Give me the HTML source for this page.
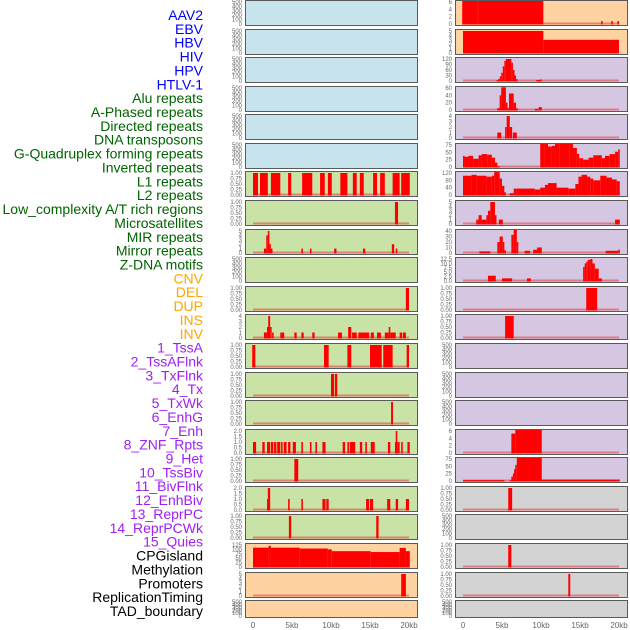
<!DOCTYPE html>
<html><head><meta charset="utf-8"><style>
html,body{margin:0;padding:0;background:#fff;width:630px;height:630px;overflow:hidden}
svg{display:block}
.lab{font-family:"Liberation Sans",sans-serif;font-size:14px}
.tk{font-family:"Liberation Sans",sans-serif;font-size:6px;fill:#666}
.ax{font-family:"Liberation Sans",sans-serif;font-size:8px;fill:#666}
</style></head><body>
<svg id="chart" width="630" height="630"></svg>
<script>
const labels = ["AAV2","EBV","HBV","HIV","HPV","HTLV-1","Alu repeats","A-Phased repeats","Directed repeats","DNA transposons","G-Quadruplex forming repeats","Inverted repeats","L1 repeats","L2 repeats","Low_complexity A/T rich regions","Microsatellites","MIR repeats","Mirror repeats","Z-DNA motifs","CNV","DEL","DUP","INS","INV","1_TssA","2_TssAFlnk","3_TxFlnk","4_Tx","5_TxWk","6_EnhG","7_Enh","8_ZNF_Rpts","9_Het","10_TssBiv","11_BivFlnk","12_EnhBiv","13_ReprPC","14_ReprPCWk","15_Quies","CPGisland","Methylation","Promoters","ReplicationTiming","TAD_boundary"];
const labelColors = {blue:"#0000ff",green:"#006400",orange:"#ffa500",purple:"#a020f0",black:"#000"};
const labelGroups = [6,13,5,15,5];
const xTicks = [0,5,10,15,20];
const xTickLabels = ["0","5kb","10kb","15kb","20kb"];
const T500=[0,100,200,300,400,500], T1=[0,0.25,0.5,0.75,1.0];
const leftBg = ["b","b","b","b","b","b","g","g","g","g","g","g","g","g","g","g","g","g","g","o","o","o"];
const rightBg = ["o","o","p","p","p","p","p","p","p","p","p","p","p","p","p","p","p","y","y","y","y","y"];
const leftTicks = [T500,T500,T500,T500,T500,T500,T1,T1,[0,1,2,3,4,5],T500,T1,[0,1,2,3,4],T1,T1,T1,[0,0.5,1,1.5,2],T1,[0,0.5,1,1.5,2],T1,[0,25,50,75,100,125],[0,1,2,3,4,5],T500];
const rightTicks = [[0,2,4,6],[0,1,2,3,4,5],[0,30,60,90,120],[0,20,40,60],[0,1,2,3,4],[0,25,50,75],[0,40,80,120],[0,1,2,3,4,5],[0,10,20,30,40],[0,2.5,5,7.5,10,12.5],T1,T1,T500,T500,T500,[0,2,4,6],[0,25,50,75],T1,T500,T1,T1,T500];
const leftSegs = [[],[],[],[],[],[],
 [[0,0.64,1],[0.9,1.9,1],[2.3,3.5,1],[4.5,4.9,1],[6.3,7.6,1],[8.6,9.2,1],[9.6,10.1,1],[11.2,12.1,1],[12.8,13.3,1],[13.7,14.2,1],[15.4,15.9,1],[16.3,16.9,1],[17.9,18.8,1],[19.0,20.1,1]],
 [[18.2,18.6,1]],
 [[1.4,1.7,1],[1.7,1.9,4],[1.9,2.1,5],[2.1,2.2,2],[2.2,2.5,1],[6.2,6.4,1],[7.3,7.5,1],[10.4,10.7,1],[14.1,14.4,1],[17.8,18.1,2],[18.3,18.5,1]],
 [],
 [[19.6,20.0,1]],
 [[1.4,1.8,1],[1.8,1.95,2],[1.95,2.2,4],[2.2,2.35,2],[2.45,2.65,1],[3.5,4.0,1],[5.3,5.6,1],[6.2,6.5,1],[7.6,7.9,1],[10.9,11.4,1],[12.2,12.6,2],[12.7,13.3,1],[13.5,14.9,1],[15.1,15.5,1],[15.9,16.4,1],[16.9,17.4,1],[17.4,17.6,2],[17.6,18.3,1],[18.8,19.1,1],[19.2,19.6,1]],
 [[-0.1,0.3,1],[9.1,9.7,1],[12.1,12.6,1],[15.0,16.5,1],[16.7,17.9,1],[19.7,20.0,1]],
 [[10.0,10.4,1],[10.5,10.8,1]],
 [[17.7,17.95,1]],
 [[0,0.4,1],[1.2,1.5,1],[1.8,2.2,1],[2.3,2.6,1],[2.7,3.0,1],[3.1,3.5,1],[3.6,3.8,1],[3.95,4.3,1],[4.5,4.8,1],[5.1,5.5,1],[6.2,6.4,1],[7.3,7.5,1],[8.0,8.2,1],[8.9,9.3,1],[11.5,11.8,1],[12.1,12.3,1],[12.4,13.1,1],[13.7,14.0,1],[14.4,14.6,1],[15.1,15.6,1],[17.3,17.6,1],[18.2,18.3,1],[18.3,18.5,2],[18.5,18.8,1],[19.0,19.2,1],[19.8,20.1,1]],
 [[5.3,5.8,1]],
 [[1.8,1.9,1],[1.9,2.2,2],[4.5,4.7,1],[6.2,6.4,1],[8.9,9.3,1],[9.4,9.7,1],[14.5,14.9,1],[15.0,15.4,1],[17.2,17.6,1],[18.3,18.6,1],[19.6,20.0,1]],
 [[4.6,4.9,1],[15.8,16.1,1]],
 [[0,2.0,110],[2.0,2.3,120],[2.3,6.0,110],[6.0,9.6,105],[9.6,10.1,100],[10.1,15.1,90],[15.1,18.8,85],[18.8,19.6,108],[19.6,20.1,90]],
 [[19.0,19.6,5]],
 []];
const rightSegs = [
 [[-0.1,1.8,6.3],[1.8,2.0,7],[2.0,10.3,6.3],[17.7,17.9,0.8],[19.0,19.2,0.8],[19.8,20.0,0.8]],
 [[0,10.3,5],[10.3,20.0,3]],
 [[4.3,4.5,5],[4.5,4.7,10],[4.7,4.9,25],[4.9,5.1,45],[5.1,5.3,80],[5.3,5.5,110],[5.5,6.2,120],[6.2,6.4,100],[6.4,6.6,60],[6.6,6.8,30],[6.8,7.0,10],[9.4,9.8,5],[9.8,10.1,8]],
 [[4.4,4.7,5],[4.7,4.9,40],[4.9,5.5,62],[5.5,5.7,20],[5.7,5.9,5],[5.9,6.5,45],[6.5,6.8,20],[6.8,7.0,5],[9.2,9.7,3],[9.7,10.1,8]],
 [[4.4,4.9,1],[5.4,5.6,2],[5.6,6.0,4],[6.0,6.3,2],[6.4,6.9,1]],
 [[0,0.2,38],[0.2,0.7,35],[0.7,1.3,38],[1.3,2.0,28],[2.0,2.4,40],[2.4,3.1,44],[3.1,3.7,42],[3.7,4.1,32],[4.1,4.4,15],[4.4,4.7,3],[9.9,10.5,88],[10.5,10.9,80],[10.9,11.4,70],[11.4,11.8,72],[11.8,12.4,85],[12.4,13.7,95],[13.7,14.1,80],[14.1,14.6,65],[14.6,14.9,45],[14.9,15.4,30],[15.4,16.1,25],[16.1,16.7,32],[16.7,17.8,40],[17.8,18.2,30],[18.2,18.8,38],[18.8,19.5,44],[19.5,19.9,52],[19.9,20.1,60]],
 [[0,1.1,105],[1.1,1.75,110],[1.75,3.0,105],[3.0,3.7,100],[3.7,4.0,105],[4.0,4.7,125],[4.7,5.0,90],[5.0,5.3,50],[5.3,5.5,15],[6.0,6.5,10],[6.5,6.9,35],[6.9,9.2,35],[9.2,9.9,30],[9.9,10.5,40],[10.5,10.9,55],[10.9,12.0,65],[12.0,13.5,40],[13.5,14.4,35],[14.4,14.8,60],[14.8,15.2,100],[15.2,15.9,110],[15.9,16.3,100],[16.3,16.7,90],[16.7,17.6,80],[17.6,18.4,105],[18.4,19.1,95],[19.1,19.7,85],[19.7,20.1,75]],
 [[1.7,2.0,1],[2.0,2.4,2],[2.4,3.0,1],[3.0,3.2,2],[3.2,3.5,3],[3.5,4.1,5],[4.1,4.2,2],[4.6,5.1,1],[19.5,20.1,1]],
 [[2.1,3.5,3],[4.4,4.7,20],[4.7,5.1,30],[5.1,5.3,20],[5.3,5.5,5],[6.2,6.5,33],[6.5,6.9,45],[6.9,7.0,20],[7.9,8.6,4],[9.0,9.5,6],[9.5,10.1,10],[18.3,19.9,4],[19.9,20.1,6]],
 [[3.2,4.2,3],[5.0,6.3,1.5],[8.2,8.7,1.5],[15.4,15.6,8],[15.6,15.8,10],[15.8,16.0,11],[16.0,16.3,12],[16.3,16.6,12.5],[16.6,16.9,10],[16.9,17.4,7],[17.4,17.8,1.5]],
 [[15.8,17.2,1]],
 [[5.4,6.5,1]],
 [],[],[],
 [[6.2,6.7,5.3],[6.7,9.5,7],[9.5,10.1,6.3]],
 [[0,5.3,3],[6.0,6.2,3],[6.2,6.4,15],[6.4,6.55,25],[6.55,6.7,40],[6.7,6.9,55],[6.9,8.4,88],[8.4,10.1,85],[10.1,20.1,5]],
 [[5.8,6.3,1]],
 [],
 [[5.8,6.2,1]],
 [[13.5,13.75,1]],
 []];

const svg = document.getElementById('chart');
const NS = "http://www.w3.org/2000/svg";
function mk(tag, attrs, parent){const e=document.createElementNS(NS,tag);for(const k in attrs)e.setAttribute(k,attrs[k]);(parent||svg).appendChild(e);return e;}
const bgColors = {b:"#c7e3eb",g:"#c9e2a5",o:"#fed3a1",p:"#d5c6e2",y:"#d3d3d3"};
const colX = [245, 455], colW = 172;
const kb0 = [253, 463], pxPerKb = 7.8;
function xScale(col, kb){return kb0[col] + kb*pxPerKb;}
function rowTop(i){return Math.round(i*28.58);}
function rowH(i){return i===21 ? 17 : 25;}

let li = 0;
const groupColor = ["blue","green","orange","purple","black"];
labelGroups.forEach((n,g)=>{
  for(let k=0;k<n;k++){
    const t = mk('text',{x:203,y:15+li*13.86+5,'text-anchor':'end',class:'lab',fill:labelColors[groupColor[g]]});
    t.textContent = labels[li];
    
    
    li++;
  }
});

function drawPanel(col, i, bgKey, ticks, segs){
  const top = rowTop(i), h = rowH(i), x0 = colX[col];
  const g = mk('g',{});
  
  
  const bg = mk('rect',{x:x0+0.5,y:top+0.5,width:colW,height:h,fill:bgColors[bgKey],stroke:"#5a5a5a",'stroke-width':1},g);
  
  
  const ymax = ticks[ticks.length-1];
  const yb = top + h - 1, yt = top + 2;
  const yScale = v => yb - (Math.min(v, ymax*1.08)/ymax)*(yb-yt);
  ticks.forEach(tv=>{
    const t = mk('text',{x:x0-3,y:yScale(tv)+2,'text-anchor':'end',class:'tk'},g);
    t.textContent = (ymax<=1 ? tv.toFixed(2) : (ymax<=2 || ymax===12.5 ? tv.toFixed(1) : String(tv)));
    
    
  });
  if(segs.length){
    const bl = mk('line',{x1:xScale(col,0),x2:xScale(col,20),y1:yb-0.5,y2:yb-0.5,stroke:"rgba(230,60,60,0.55)",'stroke-width':2},g);
    
    
  }
  segs.forEach(s=>{
    const xa = xScale(col,s[0]), xb = xScale(col,s[1]);
    const y = Math.max(top+1, yScale(s[2]));
    const r = mk('rect',{x:xa,y:y,width:Math.max(1.5,xb-xa),height:yb-y+0.5,fill:"#ff0000"},g);
    
    
  });
}
for(let i=0;i<22;i++){
  drawPanel(0,i,leftBg[i],leftTicks[i],leftSegs[i]);
  drawPanel(1,i,rightBg[i],rightTicks[i],rightSegs[i]);
}
[0,1].forEach(col=>{
  xTicks.forEach((kb,k)=>{
    const t = mk('text',{x:xScale(col,kb),y:628,'text-anchor':'middle',class:'ax'});
    t.textContent = xTickLabels[k];
    
    
  });
});
</script>
</body></html>
